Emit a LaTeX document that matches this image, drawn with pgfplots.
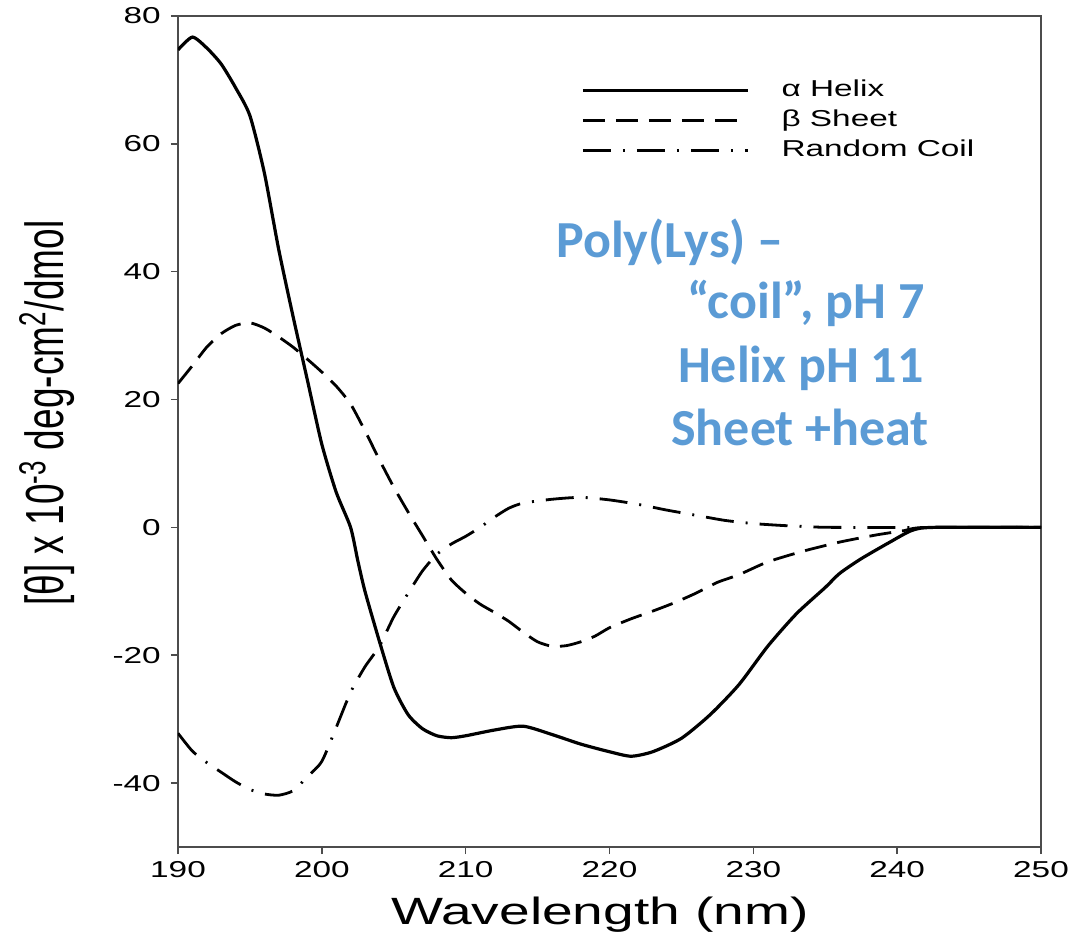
\documentclass[border=0pt]{standalone}
\usepackage{graphicx}
\usepackage{pgfplots}
\pgfplotsset{compat=1.18}
\usepackage{fontspec}
\setmainfont{Liberation Sans}
\newfontfamily\calibri{Carlito}
\definecolor{noteblue}{RGB}{91,155,213}

% CD spectra of poly(lysine) in three conformations
\pgfplotstableread{
lambda theta
190 74.7
191 76.7
192 75.0
193 72.5
194 68.8
195 64.4
196 55.5
197 43.5
198 33.0
199 23.0
200 13.0
201 5.5
202 0.0
202.5 -5.2
203 -10.0
204 -17.8
205 -25.0
206 -29.3
207 -31.5
208 -32.6
209 -32.9
210 -32.6
212 -31.7
214 -31.1
216 -32.4
218 -33.9
220 -35.1
221.5 -35.8
223 -35.1
225 -33.0
227 -29.3
229 -24.6
231 -18.6
233 -13.5
235 -9.4
236 -7.2
237.5 -4.9
239.5 -2.3
241 -0.5
242.5 0.0
250 0.0
}\helix

\pgfplotstableread{
lambda theta
190 22.5
191 25.3
192 28.2
193 30.3
194 31.6
195 32.0
196 31.2
197 29.8
198 28.2
199 26.3
200 24.3
201 22.1
202 19.3
203 15.1
204 10.6
205 6.3
206 2.4
207 -1.3
208 -5.0
209 -8.2
210 -10.3
211 -12.0
212 -13.3
213 -14.7
214 -16.4
215 -17.9
216 -18.6
217 -18.5
218 -17.9
219 -17.0
220 -15.7
221.5 -14.3
223 -13.1
224.5 -11.8
226 -10.3
227.5 -8.6
229 -7.4
231 -5.4
233.5 -3.7
236 -2.3
238.5 -1.2
240.5 -0.5
242 0.0
250 0.0
}\sheet

\pgfplotstableread{
lambda theta
190 -32.2
191 -35.0
192 -36.8
193 -38.3
194 -39.8
195 -41.0
196 -41.7
197 -41.9
198 -41.2
199 -39.0
200 -36.6
201 -31.3
202 -25.8
203 -21.8
204 -18.6
205 -14.0
206 -10.3
207 -6.8
208 -4.2
209 -2.6
210 -1.4
211 0.0
212 1.6
213 3.0
214 3.8
216 4.4
218 4.7
220 4.3
222 3.6
224 2.7
226 1.9
228 1.1
230 0.6
232 0.3
234 0.1
236 0.0
250 0.0
}\coil

\begin{document}
\begin{tikzpicture}
% fixed page frame around the plot area
\path[use as bounding box] (-89pt,-51pt) rectangle (446.5pt,423.5pt);
\begin{axis}[
  at={(0,0)}, anchor=south west,
  scale only axis, width=431.5pt, height=415.5pt,
  xmin=190, xmax=250, ymin=-50, ymax=80,
  xtick={190,200,...,250}, ytick={-40,-20,...,80},
  tick align=outside, xtick pos=lower, ytick pos=left,
  major tick length=3.5pt,
  axis line style={black!70, line width=0.8pt},
  every tick/.style={black!70, line width=0.8pt},
  /pgf/number format/assume math mode=true,
  ticklabel style={font=\fontsize{11.5}{13}\selectfont, xscale=1.45},
  xlabel={\scalebox{1.45}[1]{Wavelength (nm)}},
  every axis x label/.style={at={(axis description cs:0.489,0)}, anchor=center, yshift=-34pt,
    font=\fontsize{19}{22}\selectfont},
  ylabel={\scalebox{1}[1.45]{[θ] x 10\textsuperscript{-3} deg-cm\textsuperscript{2}/dmol}},
  every axis y label/.style={at={(axis description cs:0,0.522)}, anchor=center, xshift=-65.5pt,
    rotate=90, font=\fontsize{18.5}{21}\selectfont},
  legend style={at={(axis cs:217.6,70.9)}, anchor=north west, draw=none, fill=none,
    font=\fontsize{11.5}{13}\selectfont, row sep=3pt,
    nodes={inner sep=0pt, text height=9pt, text depth=3pt}},
  legend cell align=left,
  legend image code/.code={\draw[#1] (0pt,0pt) -- (82.5pt,0pt);},
  /tikz/every odd column/.append style={column sep=16pt},
]
\addplot[black, line width=1.6pt, smooth, tension=0.4] table[x=lambda, y=theta] {\helix};
\addlegendentry{\scalebox{1.45}[1]{α Helix}}
\addplot[black, line width=1.4pt, smooth, tension=0.4, dash pattern=on 11pt off 5.5pt] table[x=lambda, y=theta] {\sheet};
\addlegendentry{\scalebox{1.45}[1]{β Sheet}}
\addplot[black, line width=1.4pt, smooth, tension=0.4, dash pattern=on 14pt off 6pt on 1pt off 6pt] table[x=lambda, y=theta] {\coil};
\addlegendentry{\scalebox{1.45}[1]{Random Coil}}

\begin{scope}[every node/.style={font=\calibri\bfseries\fontsize{26}{30}\selectfont, text=noteblue, inner sep=0pt}]
\node[anchor=base west] at (axis cs:216.28,42.2) {Poly(Lys) –};
\node[anchor=base] at (axis cs:233.66,32.7) {“coil”, pH 7};
\node[anchor=base] at (axis cs:233.3,22.66) {Helix pH 11};
\node[anchor=base] at (axis cs:233.25,12.8) {Sheet +heat};
\end{scope}
\end{axis}
\end{tikzpicture}
\end{document}
